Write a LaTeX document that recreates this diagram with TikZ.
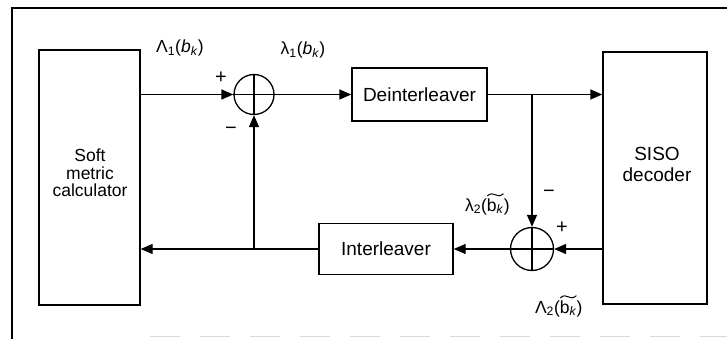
\documentclass[tikz,border=0pt]{standalone}
\usepackage{fontspec}
\setmainfont{Liberation Sans}
\usetikzlibrary{arrows.meta}
\begin{document}
\begin{tikzpicture}[x=1pt,y=-1pt,
  blk/.style={draw,line width=1.4pt,inner sep=0pt},
  conn/.style={line width=1.4pt,-{Triangle[length=12pt,width=10pt]}},
  sumc/.style={draw,circle,line width=1.3pt,inner sep=0pt},
  boxtxt/.style={font=\fontsize{19}{21}\selectfont},
  lbl/.style={font=\fontsize{17.5}{20}\selectfont},
  lblp/.style={lbl,inner sep=0pt,outer sep=0pt},
  tld/.style={line width=1pt,line cap=round},
  sgn/.style={font=\fontsize{20}{20}\selectfont}]
\useasboundingbox (0,0) rectangle (727,339);
% frame
\draw[line width=1.2pt] (12,339) -- (12,8) -- (727,8);
\draw[gray!30,line width=0.6pt,dash pattern=on 30pt off 20pt] (150,336) -- (727,336);
% blocks
\node[blk, minimum width=101pt, minimum height=255pt] (soft) at (89.5,177.5) {};
\node[align=center, font=\fontsize{17.5}{17.5}\selectfont] (softtxt) at (90,173) {Soft\\metric\\calculator};
\node[blk, minimum width=104pt, minimum height=252pt] (siso) at (655,178) {};
\node[align=center, boxtxt] (sisotxt) at (657,164) {SISO\\decoder};
\node[blk, boxtxt, minimum width=135pt, minimum height=53pt] (deint) at (419.5,94.5) {Deinterleaver};
\node[blk, boxtxt, minimum width=134pt, minimum height=51pt] (inter) at (386,249) {Interleaver};
% summing junctions
\node[sumc, minimum size=40pt] (c1) at (254,94.5) {};
\node[sumc, minimum size=43pt] (c2) at (532,249) {};
\draw[line width=1.1pt] (c1.north) -- (c1.south) (c1.west) -- (c1.east);
\draw[line width=1.1pt] (c2.north) -- (c2.south) (c2.west) -- (c2.east);
% connectors
\coordinate (br1) at (c2.north |- deint.east);
\coordinate (br2) at (c1 |- inter.west);
\draw[conn] (soft.east |- c1) -- (c1.west);
\draw[conn] (c1.east) -- (deint.west);
\draw[conn] (deint.east) -- (siso.west |- deint.east);
\draw[conn] (br1) -- (c2.north);
\draw[conn] (siso.west |- c2) -- (c2.east);
\draw[conn] (c2.west) -- (inter.east);
\draw[conn] (inter.west) -- (soft.east |- inter.west);
\draw[conn] (br2) -- (c1.south);
% labels
\node[lbl] (l1) at (180,48) {Λ\textsubscript{1}(\textit{b}\textsubscript{\textit{k}})};
\node[lbl] (l2) at (303,50) {λ\textsubscript{1}(\textit{b}\textsubscript{\textit{k}})};
% lambda_2 label with drawn tilde
\node[lblp, anchor=base west] (l3a) at (465,211) {λ\textsubscript{2}(};
\node[lblp, anchor=base west] (l3b) at (l3a.base east) {b\textsubscript{\textit{k}}};
\node[lblp, anchor=base west] (l3c) at (l3b.base east) {)};
\draw[tld] ([shift={(0.5,-2.5)}]l3b.north west) .. controls +(7,-6) and +(-7,6) .. ([shift={(-0.5,-4.5)}]l3b.north east);
% Lambda_2 label with drawn tilde
\node[lblp, anchor=base west] (l4a) at (535,313) {Λ\textsubscript{2}(};
\node[lblp, anchor=base west] (l4b) at (l4a.base east) {b\textsubscript{\textit{k}}};
\node[lblp, anchor=base west] (l4c) at (l4b.base east) {)};
\draw[tld] ([shift={(0.5,-2.5)}]l4b.north west) .. controls +(7,-6) and +(-7,6) .. ([shift={(-0.5,-4.5)}]l4b.north east);
% signs
\node[sgn] (s1) at (221,78) {+};
\node[sgn] (s2) at (231,131) {−};
\node[sgn] (s3) at (549,194) {−};
\node[sgn] (s4) at (562,228) {+};
\end{tikzpicture}
\end{document}
